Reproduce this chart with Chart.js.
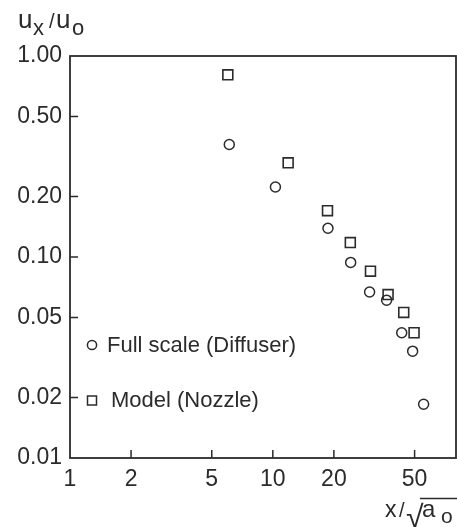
<!DOCTYPE html>
<html>
<head>
<meta charset="utf-8">
<script src="https://cdn.jsdelivr.net/npm/chart.js@4/dist/chart.umd.min.js"></script>
<style>
  html, body { margin: 0; padding: 0; background: #fff; }
  #wrap { width: 457px; height: 527px; }
</style>
</head>
<body>
<div id="wrap"><canvas id="c" width="457" height="527"></canvas></div>
<script>
// ─── Data ─────────────────────────────────────────────────────────────────────
const xTicks = [1, 2, 5, 10, 20, 50];
const yTicks = [1, 0.5, 0.2, 0.1, 0.05, 0.02, 0.01];

const fullX  = [6.1, 10.3, 18.7, 24.2, 30.0, 36.4, 43.2, 48.9, 55.4];
const fullY  = [0.363, 0.223, 0.139, 0.094, 0.067, 0.061, 0.042, 0.034, 0.0185];
const modelX = [6.0, 11.9, 18.6, 24.1, 30.3, 37.0, 44.2, 49.7];
const modelY = [0.806, 0.294, 0.170, 0.118, 0.085, 0.065, 0.053, 0.042];

const INK  = "#2b2b2b";
const FONT = "'Liberation Sans', Arial, sans-serif";

const pts = (xs, ys) => xs.map((x, i) => ({ x, y: ys[i] }));

// frame, inward tick marks, in-plot legend and axis titles
const decor = {
  id: "decor",
  afterDraw(chart) {
    const { ctx, chartArea: a, scales: { x, y } } = chart;
    ctx.save();
    ctx.strokeStyle = INK; ctx.fillStyle = INK; ctx.lineWidth = 1.8;
    ctx.strokeRect(a.left, a.top, a.right - a.left, a.bottom - a.top);

    ctx.lineWidth = 1.5;
    ctx.beginPath();
    xTicks.slice(1).forEach(v => { const px = x.getPixelForValue(v); ctx.moveTo(px, a.bottom); ctx.lineTo(px, a.bottom - 8); });
    yTicks.slice(1, -1).forEach(v => { const py = y.getPixelForValue(v); ctx.moveTo(a.left, py); ctx.lineTo(a.left + 8, py); });
    ctx.stroke();

    // legend
    ctx.font = `22px ${FONT}`;
    ctx.textBaseline = "middle";
    const ds = chart.data.datasets;
    const lx = a.left + 22;
    ctx.beginPath(); ctx.arc(lx, 345, 4.6, 0, Math.PI * 2); ctx.stroke();
    ctx.fillText(ds[0].label, a.left + 37, 346);
    ctx.strokeRect(lx - 4.5, 396, 9, 9);
    ctx.fillText(ds[1].label, a.left + 41, 401);

    // y title  u_x / u_o
    ctx.textBaseline = "alphabetic";
    ctx.font = `26px ${FONT}`; ctx.fillText("u", 18, 28);
    ctx.font = `22px ${FONT}`; ctx.fillText("x", 33, 35);
    ctx.font = `20px ${FONT}`; ctx.fillText("/", 49, 28);
    ctx.font = `26px ${FONT}`; ctx.fillText("u", 56, 28);
    ctx.font = `22px ${FONT}`; ctx.fillText("o", 72, 35);

    // x title  x / √a_o
    ctx.font = `23px ${FONT}`; ctx.fillText("x", 385, 517);
    ctx.font = `20px ${FONT}`; ctx.fillText("/", 399, 517);
    ctx.font = `32px ${FONT}`; ctx.fillText("\u221A", 406, 528);
    ctx.beginPath(); ctx.moveTo(420, 498.5); ctx.lineTo(457, 498.5); ctx.lineWidth = 1.4; ctx.stroke();
    ctx.font = `24px ${FONT}`; ctx.fillText("a", 422, 517);
    ctx.font = `21px ${FONT}`; ctx.fillText("o", 441, 523);
    ctx.restore();
  },
};

new Chart(document.getElementById("c"), {
  type: "scatter",
  data: {
    datasets: [
      { label: "Full scale (Diffuser)", data: pts(fullX, fullY),
        pointStyle: "circle", pointRadius: 5, borderColor: INK, borderWidth: 1.5, backgroundColor: "rgba(0,0,0,0)" },
      { label: "Model (Nozzle)", data: pts(modelX, modelY),
        pointStyle: "rect", pointRadius: 7, borderColor: INK, borderWidth: 1.6, backgroundColor: "rgba(0,0,0,0)" },
    ],
  },
  options: {
    responsive: false, animation: false, devicePixelRatio: 1,
    layout: { autoPadding: false, padding: { left: 0, top: 56, right: 1, bottom: 0 } },
    plugins: { legend: { display: false }, tooltip: { enabled: false } },
    scales: {
      x: {
        type: "logarithmic", position: "bottom", min: 1, max: 80,
        grid: { display: false, drawTicks: false }, border: { display: false },
        afterBuildTicks: s => { s.ticks = xTicks.map(v => ({ value: v })); },
        afterFit: s => { s.height = 69; },
        ticks: { color: INK, font: { size: 23, family: FONT }, padding: 8, autoSkip: false, maxRotation: 0,
                 callback: v => String(v) },
      },
      y: {
        type: "logarithmic", position: "left", min: 0.01, max: 1,
        grid: { display: false, drawTicks: false }, border: { display: false },
        afterBuildTicks: s => { s.ticks = yTicks.map(v => ({ value: v })); },
        afterFit: s => { s.width = 70; },
        ticks: { color: INK, font: { size: 23, family: FONT }, padding: 8, autoSkip: false,
                 callback: v => Number(v).toFixed(2) },
      },
    },
  },
  plugins: [decor],
});
</script>
</body>
</html>
